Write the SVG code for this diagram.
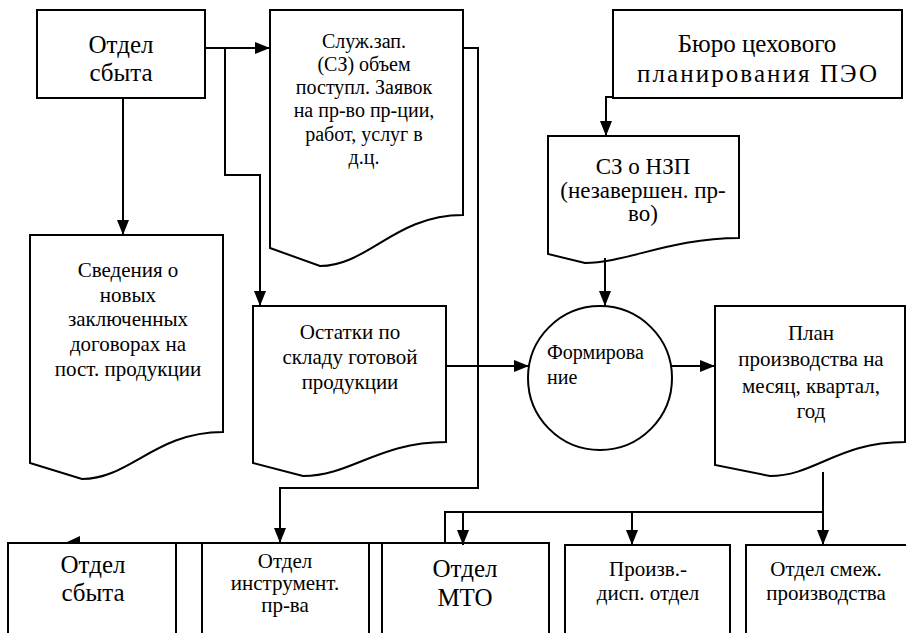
<svg xmlns="http://www.w3.org/2000/svg" width="906" height="633" viewBox="0 0 906 633">
<style>
.box{fill:#fff;stroke:#000;stroke-width:2}
.ln{fill:none;stroke:#000;stroke-width:2}
text{font-family:'Liberation Serif','DejaVu Serif','Times New Roman',serif;fill:#000;text-anchor:middle}
.l{font-size:25px}
.m{font-size:20px}
.n{font-size:21px}
.k{font-size:23px}
</style>
<defs>
<marker id="ar" viewBox="0 0 15 12" markerWidth="15" markerHeight="12" refX="15" refY="6" orient="auto" markerUnits="userSpaceOnUse">
<path d="M0,0 L15,6 L0,12 z" fill="#000"/>
</marker>
</defs>
<rect width="906" height="633" fill="#fff"/>

<g id="otdel-sbyta-top">
<rect class="box" x="37" y="10" width="168" height="88"/>
<text class="l" x="121" y="53">Отдел</text>
<text class="l" x="121" y="81">сбыта</text>
</g>

<g id="sluzh-zap">
<path class="box" d="M270,10 H463 V215 C395,215 368,266 320,266 L270,248 Z"/>
<text class="m" x="364" y="48">Служ.зап.</text>
<text class="m" x="364" y="71">(СЗ) объем</text>
<text class="m" x="364" y="94">поступл. Заявок</text>
<text class="m" x="364" y="117">на пр-во пр-ции,</text>
<text class="m" x="364" y="141">работ, услуг в</text>
<text class="m" x="364" y="164">д.ц.</text>
</g>

<g id="buro">
<rect class="box" x="613" y="10" width="289" height="88"/>
<text class="l" x="757" y="52">Бюро цехового</text>
<text class="l" x="757" y="82" textLength="240" lengthAdjust="spacing">планирования ПЭО</text>
</g>

<g id="sz-nzp">
<path class="box" d="M548,136 H739 V238 C672,238 625,263 585,263 L548,254 Z"/>
<text class="k" x="643" y="174">СЗ о НЗП</text>
<text class="k" x="643" y="198">(незавершен. пр-</text>
<text class="k" x="643" y="221">во)</text>
</g>

<g id="svedeniya">
<path class="box" d="M30,235 H223 V432 C155,432 130,479 82,479 L30,463 Z"/>
<text class="n" x="128" y="277">Сведения о</text>
<text class="n" x="128" y="302">новых</text>
<text class="n" x="128" y="326">заключенных</text>
<text class="n" x="128" y="351">договорах на</text>
<text class="n" x="128" y="376">пост. продукции</text>
</g>

<g id="ostatki">
<path class="box" d="M253,306 H446 V442 C378,442 351,476 303,476 L253,463 Z"/>
<text class="n" x="350" y="339">Остатки по</text>
<text class="n" x="350" y="364">складу готовой</text>
<text class="n" x="350" y="389">продукции</text>
</g>

<g id="formirovanie">
<circle class="box" cx="600" cy="378" r="72"/>
<text class="m" x="547" y="359" style="text-anchor:start">Формирова</text>
<text class="m" x="547" y="384" style="text-anchor:start">ние</text>
</g>

<g id="plan">
<path class="box" d="M715,306 H905 V442 C838,442 815,476 770,476 L715,465 Z"/>
<text class="n" x="811" y="340">План</text>
<text class="n" x="811" y="366">производства на</text>
<text class="n" x="811" y="393">месяц, квартал,</text>
<text class="n" x="811" y="418">год</text>
</g>

<g id="otdel-sbyta-bottom">
<rect class="box" x="8" y="543" width="168" height="100"/>
<text class="l" x="93" y="573">Отдел</text>
<text class="l" x="93" y="601">сбыта</text>
</g>

<g id="otdel-instrument">
<rect class="box" x="202" y="543" width="167" height="100"/>
<text class="n" x="285" y="568">Отдел</text>
<text class="n" x="285" y="590">инструмент.</text>
<text class="n" x="285" y="612">пр-ва</text>
</g>

<g id="otdel-mto">
<rect class="box" x="382" y="543" width="167" height="100"/>
<text class="l" x="465" y="577">Отдел</text>
<text class="l" x="465" y="606">МТО</text>
</g>

<g id="proizv-disp">
<rect class="box" x="565" y="545" width="165" height="100"/>
<text class="n" x="648" y="576">Произв.-</text>
<text class="n" x="648" y="600">дисп. отдел</text>
</g>

<g id="otdel-smezh">
<rect class="box" x="746" y="545" width="170" height="100"/>
<text class="n" x="826" y="576">Отдел смеж.</text>
<text class="n" x="826" y="600">производства</text>
</g>

<g id="connectors">
<path class="ln" d="M205,48 H270" marker-end="url(#ar)"/>
<path class="ln" d="M225,48 V175 H260 V306" marker-end="url(#ar)"/>
<path class="ln" d="M123,98 V235" marker-end="url(#ar)"/>
<path class="ln" d="M463,48 H478 V488 H280 V543" marker-end="url(#ar)"/>
<path class="ln" d="M613,97 H606 V136" marker-end="url(#ar)"/>
<path class="ln" d="M605,258 V306" marker-end="url(#ar)"/>
<path class="ln" d="M446,366 H529" marker-end="url(#ar)"/>
<path class="ln" d="M672,366 H715" marker-end="url(#ar)"/>
<path class="ln" d="M823,472 V512 H445 V543 H78"/>
<polygon points="65,543 80,536 80,543" fill="#000"/>
<path class="ln" d="M823,512 V545" marker-end="url(#ar)"/>
<path class="ln" d="M632,512 V545" marker-end="url(#ar)"/>
<path class="ln" d="M463,512 V545" marker-end="url(#ar)"/>
</g>
</svg>
